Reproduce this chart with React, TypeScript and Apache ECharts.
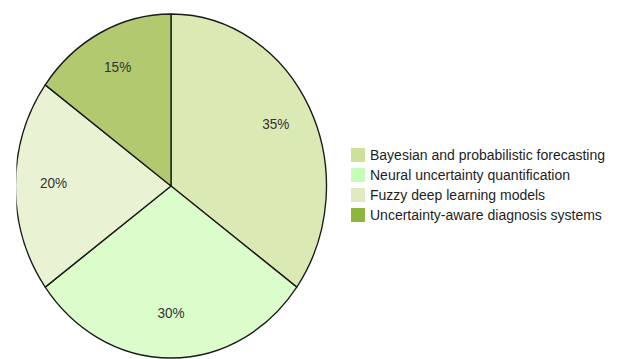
import React, { useEffect, useRef } from "react";
import * as echarts from "echarts";

const categories = [
  "Bayesian and probabilistic forecasting",
  "Neural uncertainty quantification",
  "Fuzzy deep learning models",
  "Uncertainty-aware diagnosis systems",
];
const values = [35, 30, 20, 15];
const sliceColors = ["#dbe9b4", "#dbfdcb", "#e9f3d4", "#b2c970"];
const swatchColors = ["#cfe09b", "#c6fdb8", "#dfeac0", "#8db63c"];

const FONT = "'Liberation Sans', Arial, sans-serif";

function PieChart() {
  const ref = useRef<HTMLDivElement>(null);
  useEffect(() => {
    if (!ref.current) return;
    const chart = echarts.init(ref.current, null, { renderer: "svg" });
    const data = categories.map((name, i) => ({
      name,
      value: values[i],
      itemStyle: { color: sliceColors[i] },
    }));
    chart.setOption({
      animation: false,
      series: [
        {
          type: "pie",
          center: [171, 186],
          radius: [0, 172],
          startAngle: 90,
          clockwise: true,
          silent: true,
          label: { show: false },
          labelLine: { show: false },
          itemStyle: { borderColor: "#1a1a1a", borderWidth: 1.5 },
          data,
        },
        {
          type: "pie",
          center: [171, 186],
          radius: [82, 172],
          startAngle: 90,
          clockwise: true,
          silent: true,
          itemStyle: { color: "rgba(0,0,0,0)", borderWidth: 0 },
          label: {
            show: true,
            position: "inside",
            formatter: "{c}%",
            fontFamily: FONT,
            fontSize: 15,
            color: "#333333",
          },
          labelLayout: { dy: -3 },
          labelLine: { show: false },
          data: categories.map((name, i) => ({ name, value: values[i] })),
        },
      ],
    });
    return () => chart.dispose();
  }, []);
  return (
    <div
      ref={ref}
      style={{
        position: "absolute",
        left: 0,
        top: 0,
        width: 623,
        height: 359,
        transform: "scaleX(0.904)",
        transformOrigin: "171px 50%",
      }}
    />
  );
}

function LegendChart() {
  const ref = useRef<HTMLDivElement>(null);
  useEffect(() => {
    if (!ref.current) return;
    const chart = echarts.init(ref.current, null, { renderer: "svg" });
    chart.setOption({
      animation: false,
      legend: {
        orient: "vertical",
        left: 351,
        top: 148,
        padding: 0,
        icon: "rect",
        itemWidth: 14,
        itemHeight: 14,
        itemGap: 6,
        selectedMode: false,
        textStyle: { fontFamily: FONT, fontSize: 14, color: "#1e1e1e" },
        data: categories.map((name, i) => ({
          name,
          itemStyle: { color: swatchColors[i], borderWidth: 0 },
        })),
      },
      series: [
        {
          type: "pie",
          center: [-100, -100],
          radius: [0, 0],
          silent: true,
          label: { show: false },
          labelLine: { show: false },
          data: categories.map((name, i) => ({
            name,
            value: values[i],
            itemStyle: { color: swatchColors[i] },
          })),
        },
      ],
    });
    return () => chart.dispose();
  }, []);
  return (
    <div
      ref={ref}
      style={{ position: "absolute", left: 0, top: 0, width: 623, height: 359 }}
    />
  );
}

export default function App() {
  return (
    <div
      style={{
        position: "fixed",
        left: 0,
        top: 0,
        width: 623,
        height: 359,
        background: "#ffffff",
        overflow: "hidden",
      }}
    >
      <PieChart />
      <LegendChart />
    </div>
  );
}
